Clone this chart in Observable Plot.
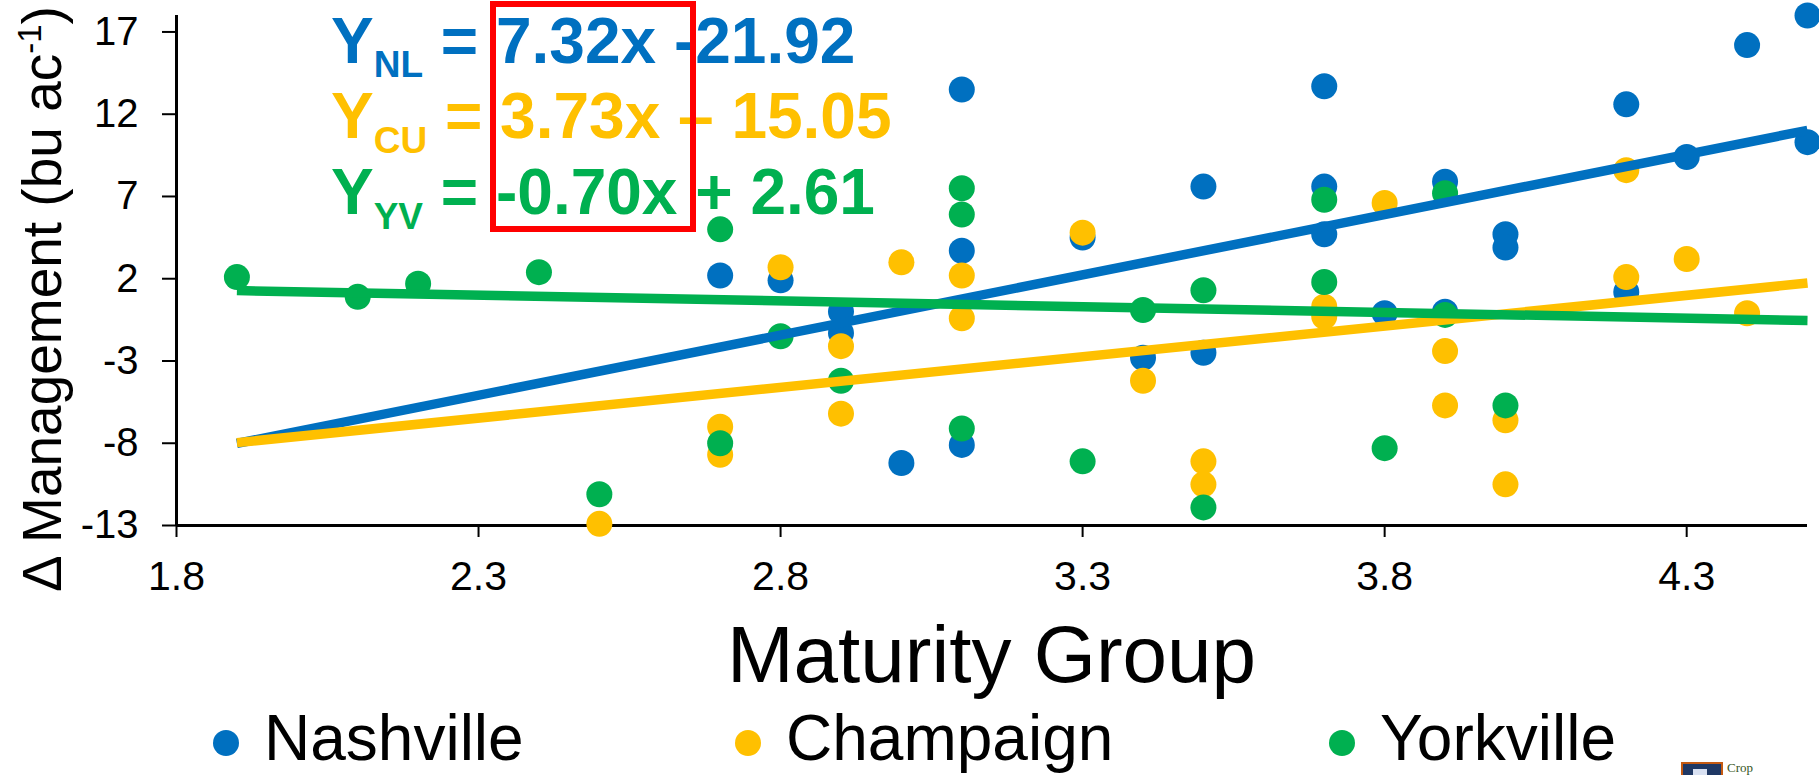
<!DOCTYPE html>
<html>
<head>
<meta charset="utf-8">
<script src="https://cdn.jsdelivr.net/npm/d3@7"></script>
<script src="https://cdn.jsdelivr.net/npm/@observablehq/plot@0.6"></script>
<style>
  html, body { margin: 0; padding: 0; background: #fff; overflow: hidden; }
  #wrap { width: 1819px; }
  svg { display: block; }
</style>
</head>
<body>
<div id="wrap"></div>
<script>
// ---------------- data ----------------
const sites  = ["Nashville", "Champaign", "Yorkville"];
const colors = ["#0070C0", "#FFC000", "#00B050"];

const nashX = [2.7, 2.8, 2.9, 2.9, 3.0, 3.1, 3.1, 3.1, 3.3, 3.4, 3.5, 3.5, 3.7, 3.7, 3.7, 3.8, 3.9, 3.9, 4.0, 4.0, 4.2, 4.2, 4.3, 4.4, 4.5, 4.5];
const nashY = [2.2, 1.9, 0.0, -1.3, -9.2, 13.5, 3.7, -8.1, 4.5, -2.8, 7.6, -2.5, 13.7, 7.6, 4.7, -0.1, 7.9, 0.0, 4.7, 3.9, 12.6, 1.2, 9.4, 16.2, 18.0, 10.3];

const champX = [2.5, 2.7, 2.7, 2.8, 2.9, 2.9, 3.0, 3.1, 3.1, 3.3, 3.4, 3.5, 3.5, 3.7, 3.7, 3.8, 3.9, 3.9, 4.0, 4.0, 4.2, 4.2, 4.3, 4.4];
const champY = [-12.9, -7.0, -8.7, 2.7, -2.1, -6.2, 3.0, 2.2, -0.4, 4.8, -4.2, -9.1, -10.5, 0.3, -0.3, 6.6, -2.4, -5.7, -6.6, -10.5, 8.6, 2.1, 3.2, -0.1];

const yorkX = [1.9, 2.1, 2.2, 2.4, 2.5, 2.7, 2.7, 2.8, 2.9, 3.1, 3.1, 3.1, 3.3, 3.4, 3.5, 3.5, 3.7, 3.7, 3.8, 3.9, 3.9, 4.0];
const yorkY = [2.1, 0.9, 1.7, 2.4, -11.1, 5.0, -8.0, -1.5, -4.2, 7.5, 5.9, -7.1, -9.1, 0.1, 1.3, -11.9, 6.8, 1.8, -8.3, 7.2, -0.2, -5.7];

// trend lines (as printed on the chart)
const slopes     = [7.32, 3.73, -0.70];
const intercepts = [-21.92, -15.05, 2.61];
const lineFrom   = [1.9, 1.9, 1.9];
const lineTo     = [4.5, 4.5, 4.5];
const eqSubs     = ["NL", "CU", "YV"];
const eqBodies   = [" = 7.32x -21.92", " = 3.73x \u2013 15.05", " = -0.70x + 2.61"];

const xTicks = [1.8, 2.3, 2.8, 3.3, 3.8, 4.3];
const yTicks = [-13, -8, -3, 2, 7, 12, 17];
const xDomain = [1.8, 4.5];
const yDomain = [-13, 18];

const xTitle = "Maturity Group";

// ---------------- build tables ----------------
const points = [
  ...nashX.map((x, i) => ({site: sites[0], x, y: nashY[i]})),
  ...champX.map((x, i) => ({site: sites[1], x, y: champY[i]})),
  ...yorkX.map((x, i) => ({site: sites[2], x, y: yorkY[i]}))
];
const lines = sites.map((s, i) => ({
  site: s,
  x1: lineFrom[i], y1: slopes[i] * lineFrom[i] + intercepts[i],
  x2: lineTo[i],   y2: slopes[i] * lineTo[i] + intercepts[i]
}));

const FONT = "'Liberation Sans', Arial, Helvetica, sans-serif";

const chart = Plot.plot({
  width: 1819,
  height: 700,
  marginLeft: 176,
  marginRight: 12,
  marginTop: 15,
  marginBottom: 175,
  style: {fontFamily: FONT, fontSize: "40px", color: "black", background: "white", overflow: "visible"},
  x: {domain: xDomain},
  y: {domain: yDomain},
  color: {domain: sites, range: colors},
  marks: [
    Plot.axisX({ticks: xTicks, tickFormat: d => d.toFixed(1), tickSize: 12, tickPadding: 23, strokeWidth: 2, label: null, fontSize: 41}),
    Plot.axisY({ticks: yTicks, tickFormat: d => String(d), tickSize: 14, tickPadding: 24, strokeWidth: 2, label: null, fontSize: 40}),
    Plot.ruleY([yDomain[0]], {strokeWidth: 3}),
    Plot.ruleX([xDomain[0]], {strokeWidth: 3}),
    Plot.dot(points, {x: "x", y: "y", fill: "site", r: 13}),
    Plot.link(lines, {x1: "x1", y1: "y1", x2: "x2", y2: "y2", stroke: "site", strokeWidth: 9.5})
  ]
});

const svg = d3.select(chart);
const xs = chart.scale("x");

// equations
const eqX = 331;
const eqBase = [62.5, 138, 214];
sites.forEach((s, i) => {
  const t = svg.append("text")
    .attr("x", eqX).attr("y", eqBase[i])
    .attr("text-anchor", "start")
    .style("font-family", FONT).style("font-weight", "bold")
    .style("font-size", "64px").style("white-space", "pre")
    .attr("fill", colors[i]);
  t.append("tspan").text("Y");
  t.append("tspan").attr("dy", 14.5).style("font-size", "37px").text(eqSubs[i]);
  t.append("tspan").attr("dy", -14.5).text(eqBodies[i]);
});

// red highlight box
svg.append("rect")
  .attr("x", 493).attr("y", 4).attr("width", 200).attr("height", 225)
  .attr("fill", "none").attr("stroke", "#FF0000").attr("stroke-width", 6);

// y axis title
const yt = svg.append("text")
  .attr("transform", "translate(61,299) rotate(-90)")
  .attr("text-anchor", "middle")
  .style("font-family", FONT).style("font-size", "55px").style("white-space", "pre")
  .attr("fill", "black");
yt.append("tspan").text("\u0394 Management (bu ac");
yt.append("tspan").attr("dy", -20).style("font-size", "33px").text("-1");
yt.append("tspan").attr("dy", 20).text(")");

// x axis title
const xr = xs.range;
svg.append("text")
  .attr("x", (xr[0] + xr[1]) / 2).attr("y", 682)
  .attr("text-anchor", "middle")
  .style("font-family", FONT).style("font-size", "80px")
  .attr("fill", "black")
  .text(xTitle);

document.getElementById("wrap").appendChild(chart);

// legend (below the plot svg)
const legendDotX = [226, 748, 1342];
const leg = d3.select("#wrap").append("svg")
  .attr("width", 1819).attr("height", 75);
sites.forEach((s, i) => {
  leg.append("circle").attr("cx", legendDotX[i]).attr("cy", 43).attr("r", 13).attr("fill", colors[i]);
  leg.append("text").attr("x", legendDotX[i] + 38).attr("y", 60)
    .attr("text-anchor", "start")
    .style("font-family", FONT).style("font-size", "64px").attr("fill", "black").text(s);
});
// small logo fragment at bottom right
leg.append("rect").attr("x", 1682).attr("y", 63).attr("width", 40).attr("height", 20)
  .attr("fill", "#1F3864").attr("stroke", "#C55A11").attr("stroke-width", 2);
leg.append("rect").attr("x", 1693).attr("y", 69).attr("width", 14).attr("height", 10).attr("fill", "#D9E1F2");
leg.append("text").attr("x", 1727).attr("y", 72)
  .attr("text-anchor", "start")
  .style("font-family", "'Liberation Serif', 'DejaVu Serif', serif").style("font-size", "13px")
  .attr("fill", "#375623").text("Crop");
</script>
</body>
</html>
